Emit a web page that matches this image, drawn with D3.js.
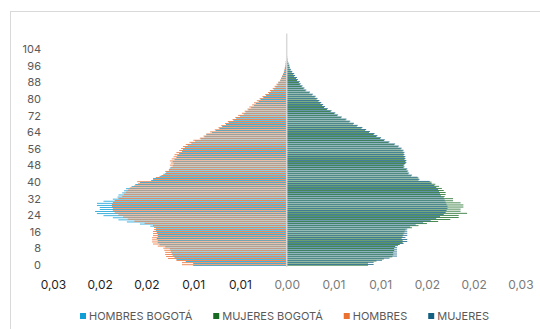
<!DOCTYPE html>
<html><head><meta charset="utf-8">
<script src="https://cdn.jsdelivr.net/npm/d3@7"></script>
<style>
html,body{margin:0;padding:0;background:#fff;}
svg{display:block;}
text{font-family:Inter,"Liberation Sans",Arial,sans-serif;}
</style></head>
<body>
<svg id="chart" width="540" height="329"></svg>
<script>
// ---- data ----
const ages = d3.range(0, 112);              // age categories 0..111
const yTickAges = [0, 8, 16, 24, 32, 40, 48, 56, 64, 72, 80, 88, 96, 104];
const xTicks = [-0.025, -0.02, -0.015, -0.01, -0.005, 0, 0.005, 0.01, 0.015, 0.02, 0.025];
const xTickLabels = ["0,03", "0,02", "0,02", "0,01", "0,01", "0,00", "0,01", "0,01", "0,02", "0,02", "0,03"];
const seriesNames = ["HOMBRES BOGOTÁ", "MUJERES BOGOTÁ", "HOMBRES", "MUJERES"];
const seriesColors = ["#0F9ED5", "#196B24", "#E97132", "#156082"];

// shares by single year of age (0..100), men plotted to the left
const hombresBogota = [
  0.0100, 0.0100, 0.0108, 0.0118, 0.0120, 0.0122, 0.0123, 0.0124, 0.0125, 0.0130,
  0.0136, 0.0138, 0.0138, 0.0139, 0.0138, 0.0138, 0.0139, 0.0140, 0.0140, 0.0146,
  0.0157, 0.0171, 0.0180, 0.0186, 0.0196, 0.0203, 0.0205, 0.0200, 0.0200, 0.0203,
  0.0203, 0.0196, 0.0186, 0.0181, 0.0180, 0.0176, 0.0174, 0.0172, 0.0166, 0.0162,
  0.0157, 0.0145, 0.0143, 0.0136, 0.0132, 0.0129, 0.0126, 0.0125, 0.0122, 0.0121,
  0.0122, 0.0120, 0.0118, 0.0117, 0.0115, 0.0112, 0.0111, 0.0109, 0.0106, 0.0102,
  0.0098, 0.0092, 0.0088, 0.0086, 0.0080, 0.0076, 0.0072, 0.0069, 0.0065, 0.0062,
  0.0057, 0.0054, 0.0050, 0.0046, 0.0044, 0.0041, 0.0038, 0.0035, 0.0033, 0.0030,
  0.0028, 0.0025, 0.0022, 0.0019, 0.0017, 0.0014, 0.0012, 0.0010, 0.0009, 0.0007,
  0.0006, 0.0005, 0.0004, 0.0003, 0.00025, 0.0002, 0.00015, 0.00012, 0.0001, 0.00006, 0.00005
];
const hombres = [
  0.0112, 0.0112, 0.0118, 0.0127, 0.0129, 0.0130, 0.0130, 0.0131, 0.0132, 0.0138,
  0.0143, 0.0144, 0.0144, 0.0144, 0.0143, 0.0143, 0.0143, 0.0142, 0.0142, 0.0143,
  0.0152, 0.0163, 0.0170, 0.0175, 0.0180, 0.0184, 0.0186, 0.0186, 0.0187, 0.0187,
  0.0186, 0.0184, 0.0180, 0.0176, 0.0174, 0.0172, 0.0170, 0.0168, 0.0163, 0.0159,
  0.0160, 0.0143, 0.0140, 0.0134, 0.0130, 0.0130, 0.0126, 0.0124, 0.0125, 0.0124,
  0.0125, 0.0123, 0.0121, 0.0120, 0.0118, 0.0115, 0.0113, 0.0111, 0.0108, 0.0104,
  0.0100, 0.0093, 0.0089, 0.0086, 0.0082, 0.0077, 0.0073, 0.0070, 0.0066, 0.0063,
  0.0058, 0.0055, 0.0052, 0.0048, 0.0045, 0.0042, 0.0040, 0.0037, 0.0035, 0.0032,
  0.0029, 0.0026, 0.0023, 0.0020, 0.0018, 0.0015, 0.0013, 0.0011, 0.0009, 0.0007,
  0.0006, 0.0005, 0.0004, 0.0003, 0.00025, 0.0002, 0.00015, 0.00012, 0.0001, 0.00006, 0.00005
];
const mujeresBogota = [
  0.0087, 0.0087, 0.0096, 0.0104, 0.0113, 0.0114, 0.0114, 0.0115, 0.0115, 0.0116,
  0.0121, 0.0124, 0.0124, 0.0123, 0.0124, 0.0125, 0.0126, 0.0127, 0.0134, 0.0141,
  0.0150, 0.0162, 0.0175, 0.0184, 0.0184, 0.0193, 0.0186, 0.0186, 0.0189, 0.0189,
  0.0186, 0.0178, 0.0178, 0.0169, 0.0170, 0.0170, 0.0168, 0.0166, 0.0163, 0.0159,
  0.0155, 0.0141, 0.0141, 0.0133, 0.0130, 0.0129, 0.0128, 0.0125, 0.0125, 0.0127,
  0.0127, 0.0126, 0.0126, 0.0125, 0.0125, 0.0124, 0.0122, 0.0119, 0.0115, 0.0109,
  0.0104, 0.0100, 0.0096, 0.0093, 0.0088, 0.0084, 0.0080, 0.0075, 0.0071, 0.0067,
  0.0063, 0.0058, 0.0054, 0.0051, 0.0047, 0.0043, 0.0040, 0.0038, 0.0036, 0.0034,
  0.0032, 0.0030, 0.0027, 0.0024, 0.0020, 0.0018, 0.0016, 0.0014, 0.0013, 0.0011,
  0.0010, 0.0008, 0.0007, 0.00055, 0.0004, 0.0003, 0.00025, 0.00018, 0.0001, 0.00007, 0.00004
];
const mujeres = [
  0.0093, 0.0093, 0.0102, 0.0110, 0.0118, 0.0118, 0.0118, 0.0118, 0.0118, 0.0119,
  0.0125, 0.0129, 0.0129, 0.0127, 0.0129, 0.0129, 0.0129, 0.0129, 0.0132, 0.0138,
  0.0146, 0.0154, 0.0160, 0.0164, 0.0168, 0.0170, 0.0171, 0.0172, 0.0172, 0.0171,
  0.0170, 0.0169, 0.0168, 0.0165, 0.0164, 0.0163, 0.0162, 0.0160, 0.0158, 0.0155,
  0.0153, 0.0142, 0.0140, 0.0134, 0.0131, 0.0130, 0.0129, 0.0126, 0.0126, 0.0128,
  0.0128, 0.0127, 0.0127, 0.0126, 0.0126, 0.0125, 0.0123, 0.0120, 0.0116, 0.0110,
  0.0105, 0.0101, 0.0097, 0.0094, 0.0089, 0.0085, 0.0081, 0.0076, 0.0072, 0.0068,
  0.0064, 0.0059, 0.0055, 0.0052, 0.0048, 0.0044, 0.0041, 0.0039, 0.0037, 0.0035,
  0.0033, 0.0031, 0.0028, 0.0025, 0.0021, 0.0019, 0.0017, 0.0015, 0.0014, 0.0012,
  0.0011, 0.0009, 0.0008, 0.0006, 0.00045, 0.00035, 0.0003, 0.0002, 0.0001, 0.00008, 0.00005
];
const seriesValues = [hombresBogota, mujeresBogota, hombres, mujeres];
const seriesSide = [-1, 1, -1, 1];

// ---- layout ----
const svg = d3.select("#chart");
const plot = {left: 53, right: 520.4, top: 33.5, bottom: 266};

svg.append("rect").attr("x", 10.5).attr("y", 11.5).attr("width", 620).attr("height", 400)
  .attr("fill", "#fff").attr("stroke", "#d9d9d9").attr("stroke-width", 1);

const x = d3.scaleLinear().domain([-0.025, 0.025]).range([plot.left, plot.right]);
const y = d3.scaleBand().domain(ages).range([plot.bottom, plot.top]).paddingInner(0.05).paddingOuter(0.025);
// clustered bars with 50% overlap: 4 bars of width w, step w/2 -> band = 2.5 w
const overlap = 0.5;
const subW = y.bandwidth() / (1 + (seriesNames.length - 1) * (1 - overlap));
const subOffset = d3.scaleLinear().domain([0, seriesNames.length - 1])
  .range([y.bandwidth() - subW, 0]);   // first series at the bottom

// bars
seriesNames.forEach((name, si) => {
  const vals = seriesValues[si];
  const side = seriesSide[si];
  svg.append("g").selectAll("rect")
    .data(vals.map((v, i) => ({age: ages[i], v: v * side})))
    .join("rect")
    .attr("x", d => Math.min(x(0), x(d.v)))
    .attr("width", d => Math.abs(x(d.v) - x(0)))
    .attr("y", d => y(d.age) + subOffset(si))
    .attr("height", subW)
    .attr("fill", seriesColors[si]);
});

// vertical axis line at zero
svg.append("line").attr("x1", x(0)).attr("x2", x(0))
  .attr("y1", plot.top).attr("y2", plot.bottom + 1)
  .attr("stroke", "#d9d9d9").attr("stroke-width", 1.5);

// y labels (category axis)
const yAxis = d3.axisLeft(y).tickValues(yTickAges).tickSize(0).tickPadding(0);
const gy = svg.append("g").attr("transform", "translate(41,0.5)").call(yAxis);
gy.select(".domain").remove();
gy.selectAll("text").attr("fill", "#595959").style("font-size", "11px")
  .style("font-family", "Inter, 'Liberation Sans', Arial, sans-serif");

// x labels (value axis)
const xAxis = d3.axisBottom(x).tickValues(xTicks).tickSize(0).tickPadding(0)
  .tickFormat((d, i) => xTickLabels[i]);
const gx = svg.append("g").attr("transform", "translate(0,280)").call(xAxis);
gx.select(".domain").remove();
gx.selectAll("text")
  .attr("fill", d => d < 0 ? "#1f1f1f" : "#7a7a7a")
  .style("font-size", "12px")
  .style("font-family", "Inter, 'Liberation Sans', Arial, sans-serif");

// legend
const legend = svg.append("g");
let cx = 0;
seriesNames.forEach((name, i) => {
  const g = legend.append("g");
  g.append("rect").attr("x", 0).attr("y", -3).attr("width", 6).attr("height", 6).attr("fill", seriesColors[i]);
  const t = g.append("text").attr("x", 9).attr("y", 0).attr("dy", "0.35em")
    .attr("fill", "#595959").style("font-size", "11px").text(name);
  const w = 9 + t.node().getComputedTextLength();
  g.attr("transform", `translate(${cx},0)`);
  cx += w + 21;
});
const total = cx - 21;
legend.attr("transform", `translate(${284.5 - total / 2},316)`);
</script>
</body></html>
